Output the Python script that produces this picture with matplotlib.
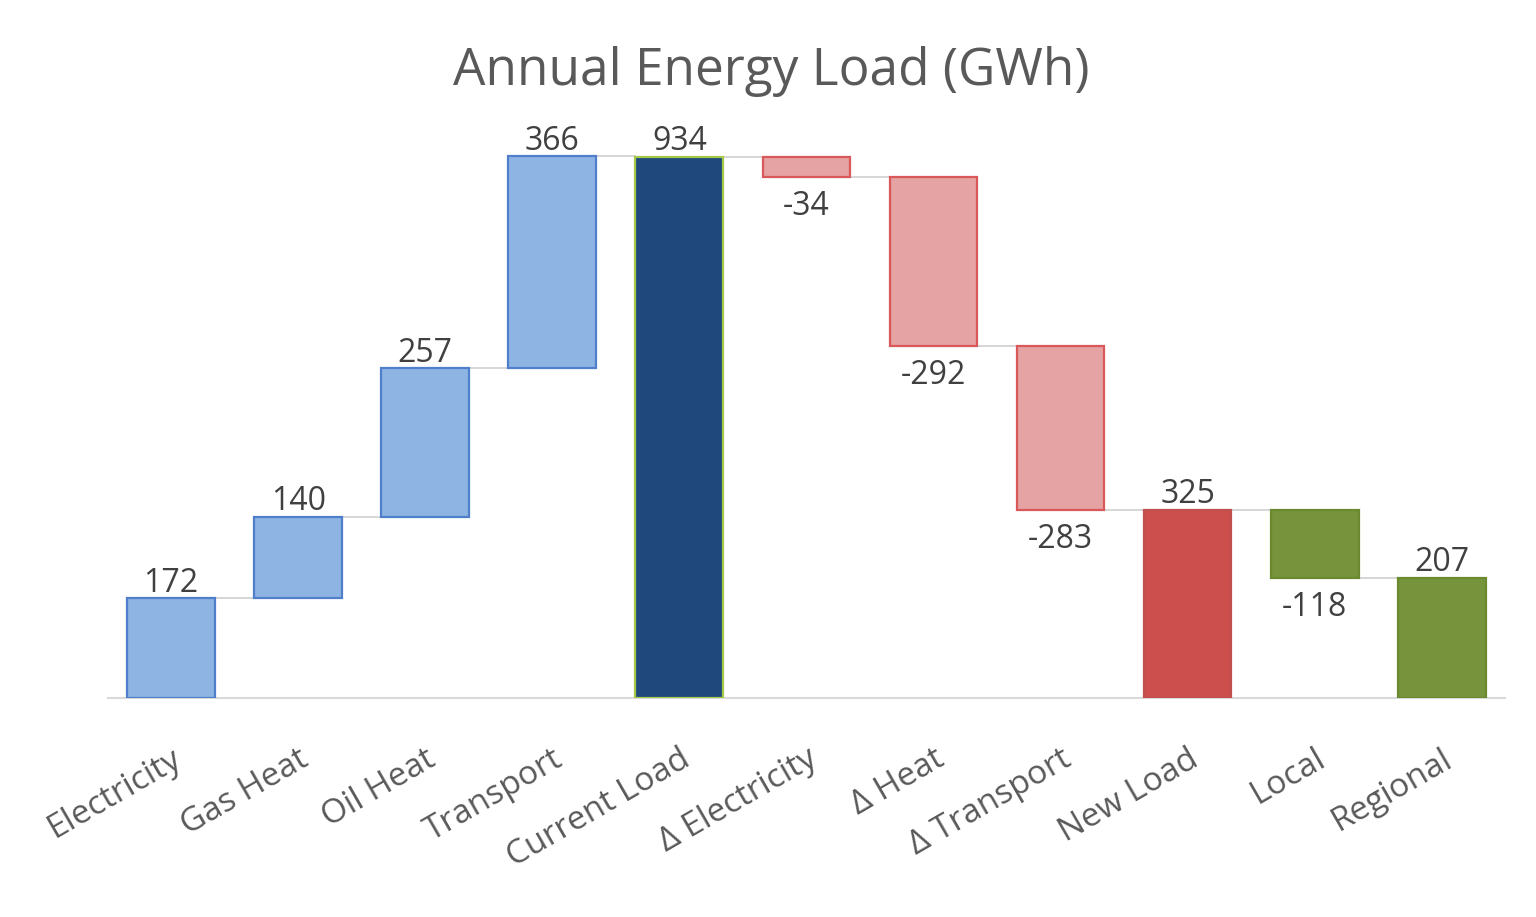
import matplotlib
matplotlib.use("Agg")
import matplotlib.pyplot as plt

# --- data ---
categories = ["Electricity", "Gas Heat", "Oil Heat", "Transport", "Current Load",
              "Δ Electricity", "Δ Heat", "Δ Transport", "New Load", "Local", "Regional"]
values = [172, 140, 257, 366, 934, -34, -292, -283, 325, -118, 207]
is_total = [False, False, False, False, True, False, False, False, True, False, True]

fill_colors = ["#8db4e2", "#8db4e2", "#8db4e2", "#8db4e2", "#1f497d",
               "#e6a3a3", "#e6a3a3", "#e6a3a3", "#cc4f4d", "#77933c", "#77933c"]
edge_colors = ["#4f7fcb", "#4f7fcb", "#4f7fcb", "#4f7fcb", "#a6c94a",
               "#d9595a", "#d9595a", "#d9595a", "#c0504d", "#6b8a30", "#6b8a30"]

plt.rcParams["font.family"] = ["Open Sans", "DejaVu Sans"]

fig = plt.figure(figsize=(15.36, 9.17), dpi=100)
ax = fig.add_axes([0.070, 0.2388, 0.910, 0.6316])

# waterfall bottoms / tops
bottoms, tops = [], []
running = 0
for v, tot in zip(values, is_total):
    if tot:
        running = v
        bottoms.append(0)
        tops.append(v)
    else:
        start = running
        running = running + v
        bottoms.append(min(start, running))
        tops.append(max(start, running))

x = list(range(len(categories)))
w = 0.69
heights = [t - b for t, b in zip(tops, bottoms)]
ax.bar(x, heights, bottom=bottoms, width=w, color=fill_colors,
       edgecolor=edge_colors, linewidth=1.6, zorder=3)

# connector lines between bars
levels = []
running = 0
for v, tot in zip(values, is_total):
    running = v if tot else running + v
    levels.append(running)
for i in range(len(x) - 1):
    ax.plot([i + w / 2, i + 1 - w / 2], [levels[i], levels[i]],
            color="#d0d0d0", linewidth=1.2, zorder=2)

# value labels
for i, v in enumerate(values):
    if v >= 0:
        ax.text(i, tops[i] - 2, f"{v}", ha="center", va="bottom",
                fontsize=23, color="#404040")
    else:
        ax.text(i, bottoms[i] - 22, f"{v}", ha="center", va="top",
                fontsize=23, color="#404040")

ax.set_xlim(-0.5, 10.5)
ax.set_ylim(0, 1000)
ax.set_yticks([])
ax.set_xticks(x)
ax.set_xticklabels(categories, rotation=30, ha="right", rotation_mode="anchor",
                   fontsize=24, color="#595959")
ax.tick_params(axis="x", length=0, pad=32)
for side in ["top", "right", "left"]:
    ax.spines[side].set_visible(False)
ax.spines["bottom"].set_color("#d9d9d9")
ax.spines["bottom"].set_linewidth(1.5)

fig.text(0.502, 0.922, "Annual Energy Load (GWh)", ha="center", va="center",
         fontsize=37, color="#595959")

fig.savefig("out.png", dpi=100, facecolor="white")
